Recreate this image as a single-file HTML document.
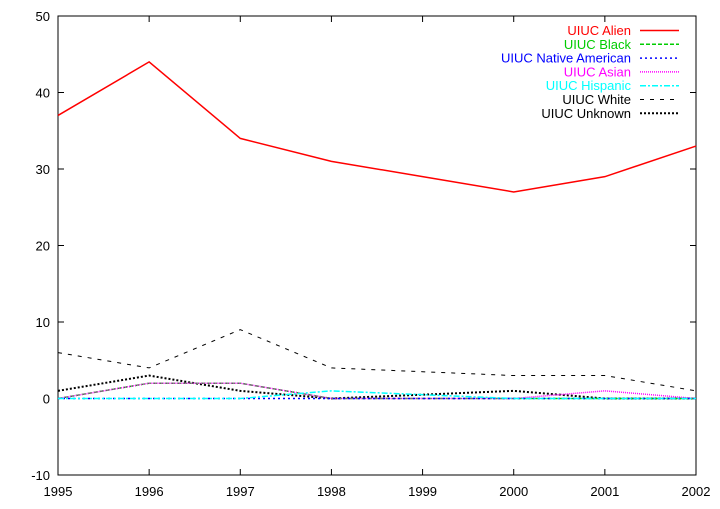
<!DOCTYPE html>
<html><head><meta charset="utf-8"><style>
body{margin:0;background:#fff}
svg text{font-family:"Liberation Sans",sans-serif;font-size:13px}
</style></head><body>
<svg id="c" width="720" height="504"></svg>
<script>
const years=[1995,1996,1997,1998,1999,2000,2001,2002];
const yTicks=[-10,0,10,20,30,40,50];
const seriesNames=["UIUC Alien","UIUC Black","UIUC Native American","UIUC Asian","UIUC Hispanic","UIUC White","UIUC Unknown"];
const alien=[37,44,34,31,29,27,29,33];
const black=[0,2,2,0,0,0,0,0];
const nativeAm=[0,0,0,0,0,0,0,0];
const asian=[0,2,2,0,0,0,1,0];
const hispanic=[0,0,0,1,0.5,0,0,0];
const white=[6,4,9,4,3.5,3,3,1];
const unknown=[1,3,1,0,0.5,1,0,0];
const NS="http://www.w3.org/2000/svg";
const svg=document.getElementById('c');
const X0=58,X1=696,Y0=475,Y1=16;
const x=v=>X0+(v-1995)/(2002-1995)*(X1-X0);
const y=v=>Y0-(v+10)/60*(Y0-Y1);
function mk(t,a,p){const e=document.createElementNS(NS,t);for(const k in a)e.setAttribute(k,a[k]);(p||svg).appendChild(e);return e;}
const frame=mk('rect',{x:X0,y:Y1,width:X1-X0,height:Y0-Y1,fill:'none',stroke:'#000'});


yTicks.forEach(t=>{
 const yy=y(t);
 const l=mk('path',{d:`M${X0},${yy}h6M${X1},${yy}h-6`,stroke:'#000'});
 
 
 const tx=mk('text',{x:X0-8,y:yy+5,'text-anchor':'end'});tx.textContent=t;
 
 
});
years.forEach(t=>{
 const xx=x(t);
 const l=mk('path',{d:`M${xx},${Y0}v-6M${xx},${Y1}v6`,stroke:'#000'});
 
 
 const tx=mk('text',{x:xx,y:496,'text-anchor':'middle'});tx.textContent=t;
 
 
});
const data=[alien,black,nativeAm,asian,hispanic,white,unknown];
const colors=['#f00','#0c0','#00f','#f0f','#0ff','#000','#000'];
const dashes=['','4,2','2,3','1,1','6,2,2,2','4,6','2,2'];
const widths=[1.5,1.5,1.5,1.5,1.5,1,2];
const order=[5,6,1,3,2,4,0];
order.forEach(i=>{
 const d=data[i].map((v,j)=>(j?'L':'M')+x(years[j])+','+y(v)).join('');
 const p=mk('path',{d,fill:'none',stroke:colors[i],'stroke-width':widths[i],'stroke-dasharray':dashes[i]});
 
 
});
seriesNames.forEach((n,i)=>{
 const yy=30.5+13.8*i;
 const g=mk('g',{});
 
 
 const tx=mk('text',{x:631,y:yy+4.5,'text-anchor':'end',fill:i>=5?'#000':colors[i]},g);tx.textContent=n;
 mk('line',{x1:640,x2:679,y1:yy,y2:yy,stroke:colors[i],'stroke-width':widths[i],'stroke-dasharray':dashes[i]},g);
});
</script>
</body></html>
